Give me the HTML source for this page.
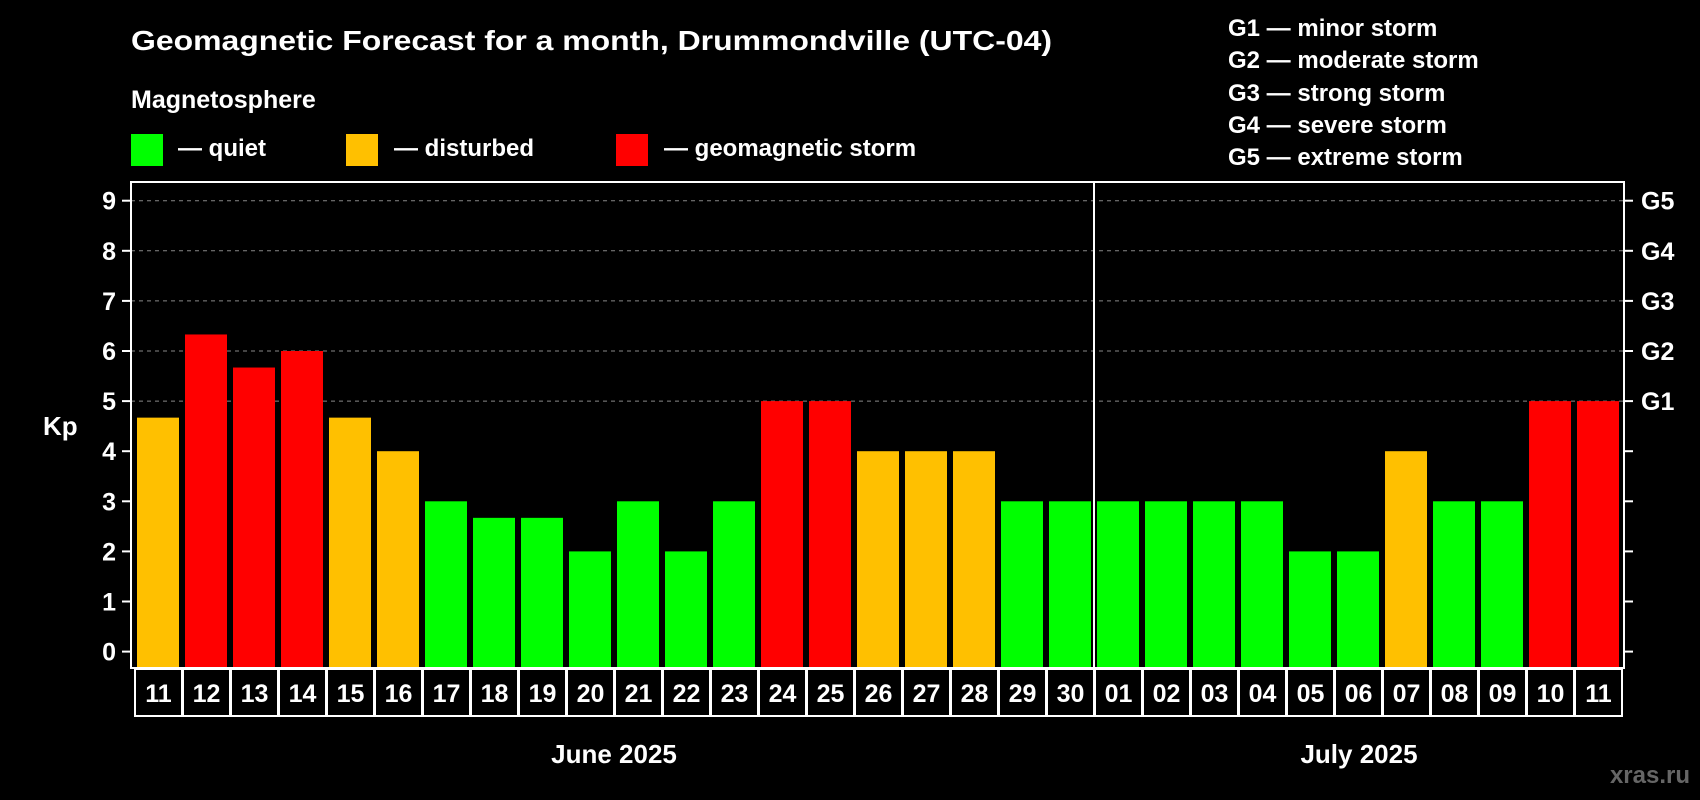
<!DOCTYPE html>
<html><head><meta charset="utf-8"><style>
html,body{margin:0;padding:0;background:#000;}
svg{display:block;font-family:"Liberation Sans",Arial,sans-serif;font-weight:bold;}
</style></head><body>
<svg id="chart" width="1700" height="800" viewBox="0 0 1700 800">
<rect x="0" y="0" width="1700" height="800" fill="#000"/>
<text x="131" y="50" font-size="28" fill="#fff" textLength="921" lengthAdjust="spacingAndGlyphs">Geomagnetic Forecast for a month, Drummondville (UTC-04)</text>
<text x="131" y="108" font-size="25" fill="#fff">Magnetosphere</text>
<g>
<rect x="131" y="134" width="32" height="32" fill="#00ff00"/>
<text x="178" y="156" font-size="24" fill="#fff">— quiet</text></g>
<g>
<rect x="346" y="134" width="32" height="32" fill="#ffc000"/>
<text x="394" y="156" font-size="24" fill="#fff">— disturbed</text></g>
<g>
<rect x="616" y="134" width="32" height="32" fill="#ff0000"/>
<text x="664" y="156" font-size="24" fill="#fff">— geomagnetic storm</text></g>
<g font-size="24" fill="#fff">
<text x="1228" y="36">G1 — minor storm</text>
<text x="1228" y="68">G2 — moderate storm</text>
<text x="1228" y="101">G3 — strong storm</text>
<text x="1228" y="133">G4 — severe storm</text>
<text x="1228" y="165">G5 — extreme storm</text>
</g>
<text x="43" y="435" font-size="26" fill="#fff">Kp</text>
<g id="grid"></g><g id="bars"></g><g id="axes"></g><g id="cells"></g>
<text x="614" y="763" font-size="26" fill="#fff" text-anchor="middle">June 2025</text>
<text x="1359" y="763" font-size="26" fill="#fff" text-anchor="middle">July 2025</text>
<text x="1690" y="783" font-size="24" fill="#666" text-anchor="end">xras.ru</text>
</svg>
<script>
const days = ["11","12","13","14","15","16","17","18","19","20","21","22","23","24","25","26","27","28","29","30","01","02","03","04","05","06","07","08","09","10","11"];
const kpValues = [4.67,6.33,5.67,6,4.67,4,3,2.67,2.67,2,3,2,3,5,5,4,4,4,3,3,3,3,3,3,2,2,4,3,3,5,5];
const yTicks = [0,1,2,3,4,5,6,7,8,9];
const gLabels = ["G1","G2","G3","G4","G5"];
const monthBreakIndex = 20;

const NS = "http://www.w3.org/2000/svg";
const plotL = 131, plotR = 1624, plotT = 182, plotB = 668;
const slot0 = 134, slotW = 48;
function yScale(v){ return 651.6 - 50.1 * v; }
function xScale(i){ return slot0 + slotW * i; }
function mk(tag, attrs, parent){ const e = document.createElementNS(NS, tag); for (const k in attrs) e.setAttribute(k, attrs[k]); parent.appendChild(e); return e; }
function colorFor(v){ return v >= 5 ? "#ff0000" : (v >= 4 ? "#ffc000" : "#00ff00"); }

const grid = document.getElementById("grid"), bars = document.getElementById("bars"), axes = document.getElementById("axes"), cells = document.getElementById("cells");

yTicks.forEach(t => {
  const y = yScale(t);
  if (t >= 5) {
    const g = mk("line", {x1: plotL, x2: plotR, y1: y, y2: y, stroke: "#888", "stroke-width": 1, "stroke-dasharray": "4,4"}, grid);
    
    
  }
  const tl = mk("line", {x1: plotL - 9, x2: plotL, y1: y, y2: y, stroke: "#fff", "stroke-width": 2}, axes);
  
  
  const tr = mk("line", {x1: plotR, x2: plotR + 9, y1: y, y2: y, stroke: "#fff", "stroke-width": 2}, axes);
  
  
  const lab = mk("text", {x: 116, y: y + 9, "font-size": 25, fill: "#fff", "text-anchor": "end"}, axes);
  lab.textContent = t;
  
  
});
gLabels.forEach((g, i) => {
  const y = yScale(5 + i);
  const lab = mk("text", {x: 1641, y: y + 9, "font-size": 25, fill: "#fff"}, axes);
  lab.textContent = g;
  
  
});

kpValues.forEach((v, i) => {
  const y = yScale(v);
  const b = mk("rect", {x: xScale(i) + 3, y: y, width: 42, height: plotB - y, fill: colorFor(v)}, bars);
  
  
});

const frame = mk("rect", {x: plotL, y: plotT, width: plotR - plotL, height: plotB - plotT, fill: "none", stroke: "#fff", "stroke-width": 2}, axes);


const sep = mk("line", {x1: xScale(monthBreakIndex), x2: xScale(monthBreakIndex), y1: plotT, y2: plotB, stroke: "#fff", "stroke-width": 2}, axes);



days.forEach((d, i) => {
  const c = mk("rect", {x: xScale(i) + 1, y: 669, width: slotW - 1, height: 47, fill: "none", stroke: "#fff", "stroke-width": 2}, cells);
  
  
  const t = mk("text", {x: xScale(i) + slotW / 2 + 0.5, y: 702, "font-size": 25, fill: "#fff", "text-anchor": "middle"}, cells);
  t.textContent = d;
  
  
});
</script>
</body></html>
